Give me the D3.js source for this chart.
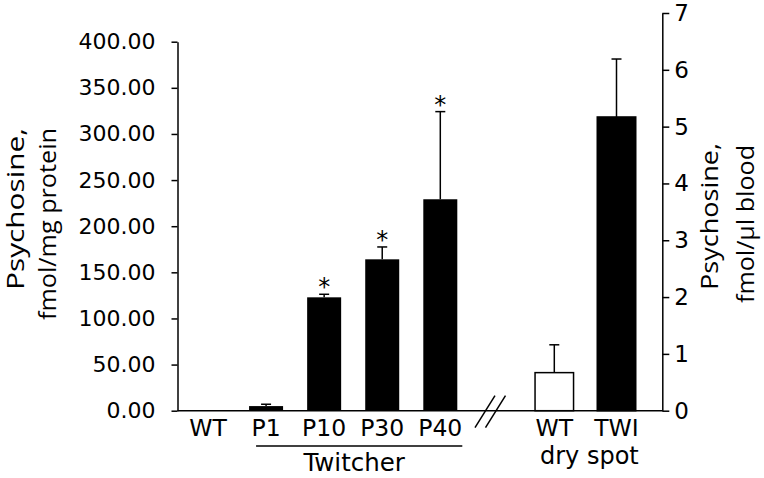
<!DOCTYPE html>
<html>
<head>
<meta charset="utf-8">
<script src="https://cdn.jsdelivr.net/npm/d3@7/dist/d3.min.js"></script>
<style>
  html, body { margin: 0; padding: 0; background: #fff; }
  svg { display: block; }
</style>
</head>
<body>
<svg id="chart" width="764" height="478"></svg>
<script>
// ---- data ----
const tissueCategories = ["WT", "P1", "P10", "P30", "P40"];
const tissueValues = [0, 5, 122.9, 164.1, 229.2];
const tissueErrors = [0, 2, 3.3, 13.4, 95];
const tissueSignificant = [false, false, true, true, true];

const bloodCategories = ["WT", "TWI"];
const bloodValues = [0.67, 5.17];
const bloodErrors = [0.49, 1.02];
const bloodFill = ["#ffffff", "#000000"];

const leftTicks = [0, 50, 100, 150, 200, 250, 300, 350, 400];
const rightTicks = [0, 1, 2, 3, 4, 5, 6, 7];

const leftTitle = ["Psychosine,", "fmol/mg protein"];
const rightTitle = ["Psychosine,", "fmol/\u03bcl blood"];
const groupLabelLeft = "Twitcher";
const groupLabelRight = "dry spot";

// ---- layout ----
const svg = d3.select("#chart");
const baseY = 410.7;
const leftAxisX = 177.5;
const rightAxisX = 662.3;
const tickFont = "'DejaVu Sans', Verdana, sans-serif";
const titleFont = "'Open Sans', 'Noto Sans', sans-serif";

const yLeft = d3.scaleLinear().domain([0, 400]).range([baseY, 41.7]);
const yRight = d3.scaleLinear().domain([0, 7]).range([baseY, 13]);
const xLeft = d3.scalePoint().domain(tissueCategories).range([208, 440.3]);
const xRight = d3.scalePoint().domain(bloodCategories).range([554.3, 616.5]);
const leftBarW = 34;
const rightBarW = 38.5;
const capW = 10;

// baseline
svg.append("line")
  .attr("x1", leftAxisX).attr("x2", rightAxisX)
  .attr("y1", baseY).attr("y2", baseY)
  .attr("stroke", "#000").attr("stroke-width", 1.5);

// left axis
const gL = svg.append("g").attr("transform", `translate(${leftAxisX},0)`)
  .call(d3.axisLeft(yLeft).tickValues(leftTicks).tickFormat(d3.format(".2f"))
        .tickSize(6).tickSizeOuter(0).tickPadding(16));
gL.select(".domain").attr("stroke-width", 1.5);
gL.selectAll(".tick line").attr("stroke-width", 1.5);
gL.selectAll(".tick text").attr("font-family", tickFont).attr("font-size", 22).attr("fill", "#000");

// right axis
const gR = svg.append("g").attr("transform", `translate(${rightAxisX},0)`)
  .call(d3.axisRight(yRight).tickValues(rightTicks).tickFormat(d3.format("d"))
        .tickSize(7).tickSizeOuter(0).tickPadding(5));
gR.select(".domain").attr("stroke-width", 1.5);
gR.selectAll(".tick line").attr("stroke-width", 1.5);
gR.selectAll(".tick text").attr("font-family", tickFont).attr("font-size", 23).attr("fill", "#000");

// tissue bars
const tissue = tissueCategories.map((c, i) => ({c, v: tissueValues[i], e: tissueErrors[i], s: tissueSignificant[i]}));
const gBars = svg.append("g");
tissue.filter(d => d.v > 0).forEach(d => {
  const cx = xLeft(d.c);
  gBars.append("rect")
    .attr("x", cx - leftBarW / 2).attr("width", leftBarW)
    .attr("y", yLeft(d.v)).attr("height", baseY - yLeft(d.v))
    .attr("fill", "#000");
  const top = yLeft(d.v + d.e);
  gBars.append("line").attr("x1", cx).attr("x2", cx)
    .attr("y1", yLeft(d.v)).attr("y2", top)
    .attr("stroke", "#000").attr("stroke-width", 1.5);
  gBars.append("line").attr("x1", cx - capW / 2).attr("x2", cx + capW / 2)
    .attr("y1", top).attr("y2", top)
    .attr("stroke", "#000").attr("stroke-width", 1.5);
  if (d.s) {
    gBars.append("text").attr("x", cx).attr("y", top + 1)
      .attr("text-anchor", "middle")
      .attr("font-family", tickFont).attr("font-size", 24)
      .text("*");
  }
});

// blood bars
const blood = bloodCategories.map((c, i) => ({c, v: bloodValues[i], e: bloodErrors[i], f: bloodFill[i]}));
blood.forEach(d => {
  const cx = xRight(d.c);
  const top = yRight(d.v + d.e);
  gBars.append("line").attr("x1", cx).attr("x2", cx)
    .attr("y1", yRight(d.v)).attr("y2", top)
    .attr("stroke", "#000").attr("stroke-width", 1.5);
  gBars.append("line").attr("x1", cx - capW / 2).attr("x2", cx + capW / 2)
    .attr("y1", top).attr("y2", top)
    .attr("stroke", "#000").attr("stroke-width", 1.5);
  gBars.append("rect")
    .attr("x", cx - rightBarW / 2).attr("width", rightBarW)
    .attr("y", yRight(d.v)).attr("height", baseY - yRight(d.v))
    .attr("fill", d.f).attr("stroke", "#000").attr("stroke-width", 1.5);
});

// category labels
const labelY = 435.5;
tissueCategories.forEach(c => {
  svg.append("text").attr("x", xLeft(c)).attr("y", labelY)
    .attr("text-anchor", "middle")
    .attr("font-family", tickFont).attr("font-size", 23.5)
    .text(c);
});
bloodCategories.forEach(c => {
  svg.append("text").attr("x", xRight(c)).attr("y", labelY)
    .attr("text-anchor", "middle")
    .attr("font-family", tickFont).attr("font-size", 23.5)
    .text(c);
});

// Twitcher group line and label
const gx1 = xLeft("P1") - 10, gx2 = xLeft("P40") + 22;
svg.append("line").attr("x1", gx1).attr("x2", gx2).attr("y1", 446).attr("y2", 446)
  .attr("stroke", "#000").attr("stroke-width", 1.5);
svg.append("text").attr("x", (gx1 + gx2) / 2 - 5).attr("y", 471)
  .attr("text-anchor", "middle")
  .attr("font-family", tickFont).attr("font-size", 24.5)
  .text(groupLabelLeft);
svg.append("text").attr("x", (xRight("WT") + xRight("TWI")) / 2 + 4).attr("y", 463.5)
  .attr("text-anchor", "middle")
  .attr("font-family", tickFont).attr("font-size", 24)
  .text(groupLabelRight);

// axis break marks
const bm = svg.append("g").attr("stroke", "#000").attr("stroke-width", 1.5);
[0, 10.5].forEach(dx => {
  bm.append("line")
    .attr("x1", 475 + dx).attr("y1", baseY + 17)
    .attr("x2", 495 + dx).attr("y2", baseY - 15);
});

// axis titles (rotated)
function title(lines, xs, yEnd, lens) {
  lines.forEach((t, i) => {
    svg.append("text")
      .attr("transform", `translate(${xs[i]},${yEnd[i]}) rotate(-90)`)
      .attr("text-anchor", "end")
      .attr("font-family", titleFont).attr("font-size", 23)
      .attr("textLength", lens[i]).attr("lengthAdjust", "spacingAndGlyphs")
      .text(t);
  });
}
title(leftTitle, [23.5, 55.5], [128, 128], [162, 192]);
title(rightTitle, [718, 754], [143, 145], [147, 158]);
</script>
</body>
</html>
